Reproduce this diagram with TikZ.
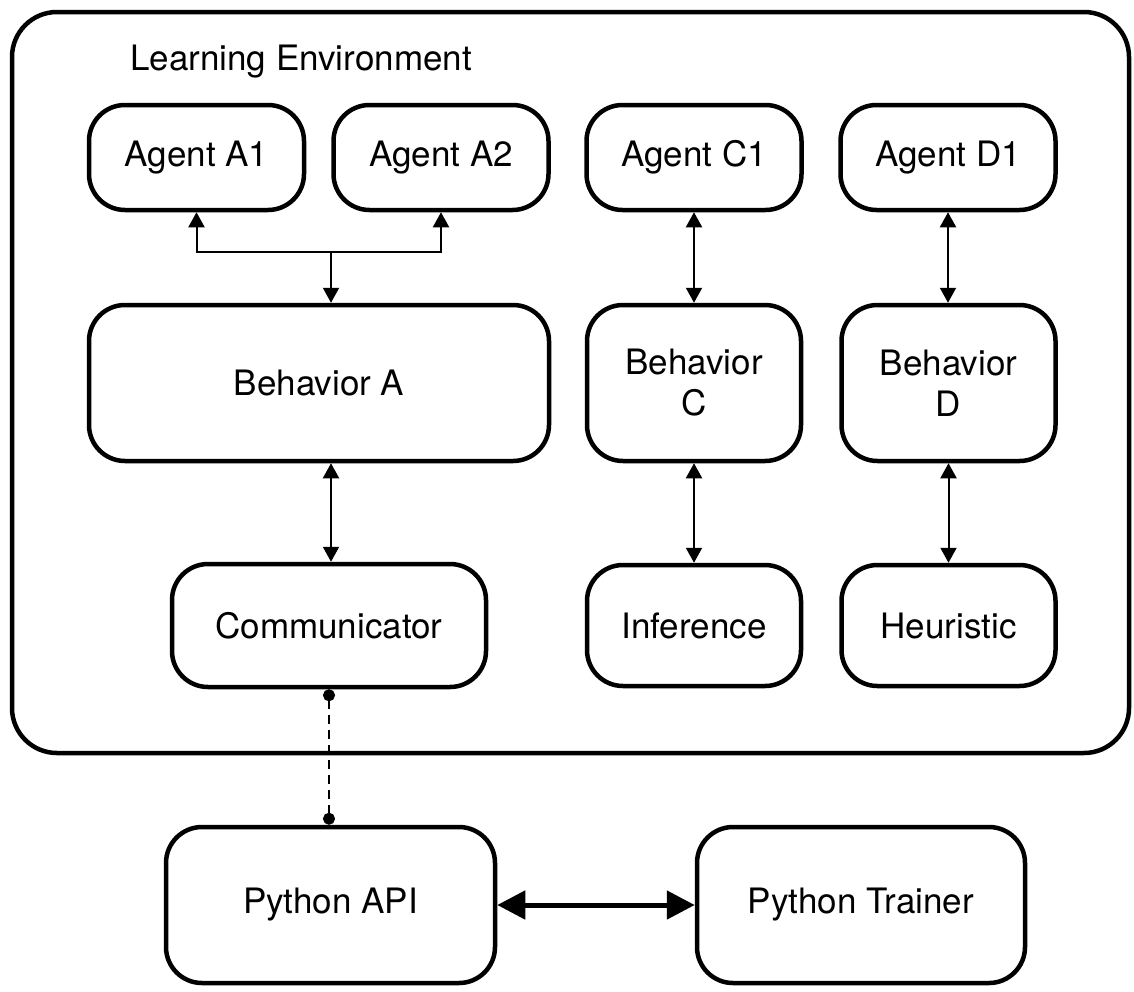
\documentclass[tikz,border=0pt]{standalone}
\usepackage{fontspec}
\setmainfont{TeX Gyre Heros}
\usetikzlibrary{arrows.meta}
\begin{document}
\begin{tikzpicture}[x=1pt,y=-1pt,
  box/.style={draw, line width=4.5pt, rounded corners=36pt, inner sep=0pt,
    align=center, font=\fontsize{35}{41}\selectfont},
  link/.style={line width=2pt, {Triangle[length=15pt,width=16pt]}-{Triangle[length=15pt,width=16pt]}},
  halflink/.style={line width=2pt, -{Triangle[length=15pt,width=16pt]}},
  bus/.style={line width=5pt, {Triangle[length=28pt,width=28pt]}-{Triangle[length=28pt,width=28pt]}},
  socket/.style={line width=2pt, dash pattern=on 9pt off 6pt, {Circle[length=12pt]}-{Circle[length=12pt]}}]
\useasboundingbox (0,0) rectangle (1134,991);

% environment frame
\draw[line width=4.5pt, rounded corners=45pt] (12,12) rectangle (1129,753);
\node[anchor=base west, inner sep=0pt, font=\fontsize{35}{41}\selectfont] (title) at (130,70) {Learning Environment};

% agents
\node[box, minimum width=215pt, minimum height=105pt] (a1) at (196.5,157.5) {Agent A1};
\node[box, minimum width=215pt, minimum height=105pt] (a2) at (441,157.5) {Agent A2};
\node[box, minimum width=215pt, minimum height=105pt] (c1) at (694,157.5) {Agent C1};
\node[box, minimum width=215pt, minimum height=105pt] (d1) at (948,157.5) {Agent D1};

% behaviors
\node[box, minimum width=460pt, minimum height=156pt] (ba) at (319,383) {Behavior A};
\node[box, minimum width=214pt, minimum height=156pt] (bc) at (694,383) {Behavior\\C};
\node[box, minimum width=214pt, minimum height=156pt] (bd) at (948.5,383) {Behavior\\D};

% policies
\node[box, minimum width=314pt, minimum height=123pt] (comm) at (329,625.5) {Communicator};
\node[box, minimum width=214pt, minimum height=121pt] (inf) at (694,625.5) {Inference};
\node[box, minimum width=214pt, minimum height=121pt] (heur) at (948.5,625.5) {Heuristic};

% python side
\node[box, minimum width=329pt, minimum height=156pt] (api) at (330.5,905) {Python API};
\node[box, minimum width=328pt, minimum height=156pt] (trainer) at (861,905) {Python Trainer};

% agents to behaviors
\coordinate (split) at (331,252);
\draw[halflink] (split) -| (a1.south);
\draw[halflink] (split) -| (a2.south);
\draw[halflink] (split) -- (split |- ba.north);
\draw[link] (c1.south) -- (c1.south |- bc.north);
\draw[link] (d1.south) -- (d1.south |- bd.north);

% behaviors to policies
\draw[link] (split |- ba.south) -- (split |- comm.north);
\draw[link] (bc.south) -- (bc.south |- inf.north);
\draw[link] (bd.south) -- (bd.south |- heur.north);

% external communication
\draw[socket] (comm.south) -- (comm.south |- api.north);
\draw[bus] (api.east) -- (trainer.west);
\end{tikzpicture}
\end{document}
